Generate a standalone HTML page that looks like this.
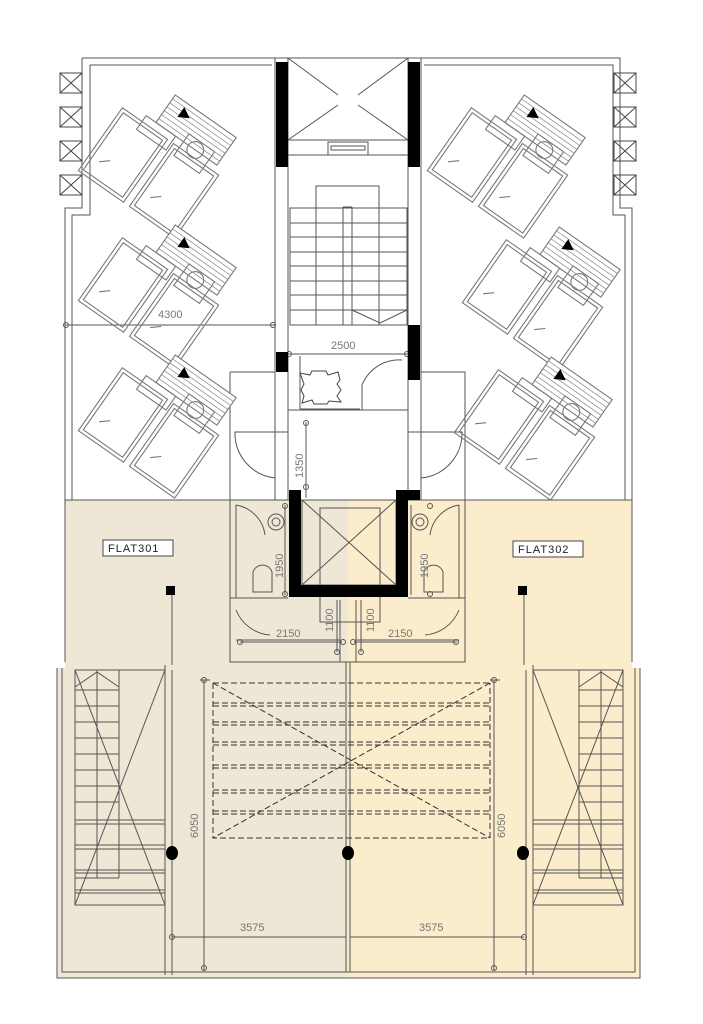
<!DOCTYPE html>
<html><head><meta charset="utf-8"><style>
html,body{margin:0;padding:0;background:#fff}
svg{display:block}
text{font-family:"Liberation Sans",sans-serif;fill:#777;font-size:11px}
</style></head><body>
<svg width="703" height="1024" viewBox="0 0 703 1024" xmlns="http://www.w3.org/2000/svg">
<defs>
<symbol id="su" overflow="visible">
 <g fill="none" stroke="#777" stroke-width="0.9">
  <rect x="-50" y="-8" width="46" height="64"/><rect x="-47" y="-5" width="40" height="58"/>
  <rect x="2" y="-8" width="46" height="64"/><rect x="5" y="-5" width="40" height="58"/>
  <rect x="-20" y="-42" width="62" height="28" fill="#fff"/>
  <g stroke="#888" stroke-width="0.6">
   <line x1="-20" y1="-38" x2="42" y2="-38"/><line x1="-20" y1="-34" x2="42" y2="-34"/>
   <line x1="-20" y1="-30" x2="42" y2="-30"/><line x1="-20" y1="-26" x2="42" y2="-26"/>
   <line x1="-20" y1="-22" x2="42" y2="-22"/><line x1="-20" y1="-18" x2="42" y2="-18"/>
  </g>
  <rect x="-30" y="-14" width="30" height="14"/><rect x="8" y="-22" width="26" height="22"/>
  <circle cx="20" cy="-14" r="7"/>
  <line x1="-40" y1="40" x2="-33" y2="34"/><line x1="12" y1="40" x2="19" y2="34"/>
 </g>
 <polygon points="-8,-38 -8,-28 1,-33" fill="#000"/>
</symbol>
</defs>

<rect x="65" y="500" width="283" height="478" fill="#efe7d6"/>
<rect x="348" y="500" width="284" height="478" fill="#fbedcc"/>
<rect x="57" y="668" width="10" height="310" fill="#efe7d6"/>
<rect x="630" y="668" width="10" height="310" fill="#fbedcc"/>

<g fill="none" stroke="#555" stroke-width="1">
 <path d="M82,58 H620 V208 H632 V662 M82,58 V208 H65 V662"/>
 <path d="M90,65 H272 M424,65 H613 V215 H625 V500 M90,65 V215 H72 V500"/>
 <path d="M65,500 H632"/>
 <path d="M57,668 V978 H640 V668 M62,668 V972 H635 V668"/>
 <g stroke="#444">
  <rect x="60" y="73" width="22" height="20"/><path d="M60,73 L82,93 M82,73 L60,93"/>
  <rect x="60" y="107" width="22" height="20"/><path d="M60,107 L82,127 M82,107 L60,127"/>
  <rect x="60" y="141" width="22" height="20"/><path d="M60,141 L82,161 M82,141 L60,161"/>
  <rect x="60" y="175" width="22" height="20"/><path d="M60,175 L82,195 M82,175 L60,195"/>
  <rect x="614" y="73" width="22" height="20"/><path d="M614,73 L636,93 M636,73 L614,93"/>
  <rect x="614" y="107" width="22" height="20"/><path d="M614,107 L636,127 M636,107 L614,127"/>
  <rect x="614" y="141" width="22" height="20"/><path d="M614,141 L636,161 M636,141 L614,161"/>
  <rect x="614" y="175" width="22" height="20"/><path d="M614,175 L636,195 M636,175 L614,195"/>
 </g>
 <path d="M275,58 H421 M275,58 V500 M421,58 V500"/>
 <path d="M288,140 H408 M288,155 H408 M288,58 V500 M408,58 V500"/>
 <path d="M288,58 L338,95 M408,58 L358,95 M288,140 L338,105 M408,140 L358,105"/>
 <rect x="328" y="142" width="40" height="13"/><rect x="331" y="146" width="34" height="4"/>
 <rect x="316" y="186" width="63" height="22"/>
 <rect x="290" y="208" width="117" height="117"/>
 <path d="M343,207 V325 M352,207 V325 M343,207 H352 M316,208 V325 M379,208 V325"/>
 <path d="M290,223 H407 M290,237 H407 M290,252 H407 M290,266 H407 M290,281 H407 M290,295 H407 M290,310 H407"/>
 <path d="M352,310 L380,323 L407,310"/>
 <path d="M65,325 H275"/><circle cx="66" cy="325" r="2.5"/><circle cx="273" cy="325" r="2.5"/>
 <path d="M288,354 H408"/><circle cx="289" cy="354" r="2.5"/><circle cx="407" cy="354" r="2.5"/>
 <path d="M230,372 H275 M230,372 V500 M421,372 H465 V500"/>
 <path d="M288,410 H408 M288,420 V490 M408,420 V490"/>
 <path d="M300,356 V409 M300,409 H360"/>
 <path d="M362,410 V385 A40,40 0 0 1 402,360"/>
 <path d="M288,432 H235 A45,45 0 0 0 275,478 M408,432 H462 A45,45 0 0 1 421,478"/>
 <path d="M306,422 V498"/><circle cx="306" cy="423" r="2.5"/><circle cx="306" cy="487" r="2.5"/>
 <path d="M300,373 l10,2 l2,-4 l14,0 l2,4 l10,-3 l2,8 l-3,4 l4,6 l-4,6 l4,6 l-12,-1 l-2,3 l-13,0 l-2,-4 l-10,3 l2,-7 l-3,-6 l3,-6 z" stroke="#444"/>
 <path d="M230,500 V662 H465 V500"/>
 <path d="M230,598 H288 M408,598 H465 M236,505 V598 M459,505 V598"/>
 <path d="M236,640 H340 V662 M459,640 H356 V662 M340,640 V600 M356,640 V600"/>
 <path d="M236,610 A40,40 0 0 0 270,635 M459,610 A40,40 0 0 1 425,635"/>
 <path d="M236,505 A35,35 0 0 1 265,535 M459,505 A35,35 0 0 0 430,535"/>
 <circle cx="276" cy="522" r="8"/><circle cx="276" cy="522" r="4"/>
 <circle cx="420" cy="522" r="8"/><circle cx="420" cy="522" r="4"/>
 <path d="M253,592 V572 A10,10 0 0 1 272,572 V592 Z"/>
 <path d="M424,592 V572 A10,10 0 0 1 443,572 V592 Z"/>
 <path d="M285,505 V595 M411,505 V595"/>
 <circle cx="285" cy="506" r="2.5"/><circle cx="285" cy="594" r="2.5"/>
 <circle cx="430" cy="506" r="2.5"/><circle cx="430" cy="594" r="2.5"/>
 <path d="M240,642 H342 M354,642 H457"/>
 <circle cx="240" cy="642" r="2.5"/><circle cx="343" cy="642" r="2.5"/>
 <circle cx="353" cy="642" r="2.5"/><circle cx="456" cy="642" r="2.5"/>
 <path d="M337,600 V652 M361,600 V652"/>
 <circle cx="337" cy="652" r="2.5"/><circle cx="361" cy="652" r="2.5"/>
 <path d="M320,508 V622 H380 V508 Z M302,500 L396,585 M396,500 L302,585"/>
 <rect x="302" y="500" width="94" height="85"/>
 <path d="M346,662 V972 M350,662 V972"/>
 <g stroke="#333" stroke-dasharray="6,3">
  <path d="M213,683 H490 M213,683 V838 H490 V683 M213,683 L490,838 M490,683 L213,838"/>
  <path d="M213,703 H490 M213,706 H490 M213,722 H490 M213,725 H490 M213,742 H490 M213,745 H490 M213,765 H490 M213,768 H490 M213,790 H490 M213,793 H490 M213,811 H490 M213,814 H490"/>
 </g>
 <path d="M204,680 V970 M494,680 V970 M200,680 H210 M490,680 H500"/>
 <circle cx="204" cy="680" r="2.5"/><circle cx="494" cy="680" r="2.5"/>
 <circle cx="204" cy="968" r="2.5"/><circle cx="494" cy="968" r="2.5"/>
 <rect x="75" y="670" width="90" height="235"/>
 <path d="M75,670 L165,905 M165,670 L75,905 M75,687 L97,672 L119,687"/>
 <path d="M97,670 V878 M119,670 V878 M75,878 H119"/>
 <path d="M75,690 H119 M75,706 H119 M75,722 H119 M75,738 H119 M75,754 H119 M75,770 H119 M75,786 H119 M75,802 H119 M75,820 H165 M75,824 H165 M75,845 H165 M75,849 H165 M75,870 H165 M75,873 H165 M75,890 H165 M75,893 H165"/>
 <path d="M165,665 V975 M172,670 V975"/>
 <rect x="533" y="670" width="90" height="235"/>
 <path d="M533,670 L623,905 M623,670 L533,905 M579,687 L601,672 L623,687"/>
 <path d="M579,670 V878 M601,670 V878 M579,878 H623"/>
 <path d="M579,690 H623 M579,706 H623 M579,722 H623 M579,738 H623 M579,754 H623 M579,770 H623 M579,786 H623 M579,802 H623 M533,820 H623 M533,824 H623 M533,845 H623 M533,849 H623 M533,870 H623 M533,873 H623 M533,890 H623 M533,893 H623"/>
 <path d="M533,665 V975 M526,670 V975"/>
 <path d="M172,937 H346 M350,937 H524"/>
 <circle cx="172" cy="937" r="2.5"/><circle cx="524" cy="937" r="2.5"/>
 <path d="M172,588 V665 M524,588 V665"/>
</g>
<g fill="#000">
 <rect x="276" y="62" width="12" height="105"/>
 <rect x="408" y="62" width="12" height="105"/>
 <rect x="276" y="352" width="12" height="20"/>
 <rect x="408" y="325" width="12" height="55"/>
 <path d="M289,490 H301 V585 H396 V490 H420 V500 H408 V597 H289 Z"/>
 <rect x="166" y="586" width="9" height="9"/>
 <rect x="518" y="586" width="9" height="9"/>
 <ellipse cx="172" cy="853" rx="6" ry="7"/>
 <ellipse cx="348" cy="853" rx="6" ry="7"/>
 <ellipse cx="523" cy="853" rx="6" ry="7"/>
</g>
<use href="#su" transform="translate(166,150) rotate(35) scale(1.2)"/>
<use href="#su" transform="translate(166,280) rotate(35) scale(1.2)"/>
<use href="#su" transform="translate(166,410) rotate(35) scale(1.2)"/>
<use href="#su" transform="translate(515,150) rotate(35) scale(1.2)"/>
<use href="#su" transform="translate(550,282) rotate(35) scale(1.2)"/>
<use href="#su" transform="translate(542,412) rotate(35) scale(1.2)"/>
<rect x="158" y="305" width="40" height="14" fill="#fff"/>
<text x="158" y="318">4300</text>
<text x="331" y="349">2500</text>
<text transform="translate(303,478) rotate(-90)">1350</text>
<text transform="translate(283,578) rotate(-90)">1950</text>
<text transform="translate(428,578) rotate(-90)">1950</text>
<text x="276" y="637">2150</text>
<text x="388" y="637">2150</text>
<text transform="translate(333,632) rotate(-90)">1100</text>
<text transform="translate(374,632) rotate(-90)">1100</text>
<text transform="translate(198,838) rotate(-90)">6050</text>
<text transform="translate(505,838) rotate(-90)">6050</text>
<text x="240" y="931" font-size="10">3575</text>
<text x="419" y="931" font-size="10">3575</text>
<rect x="103" y="540" width="70" height="16" fill="#fff" stroke="#444"/>
<text x="108" y="552" style="fill:#222;letter-spacing:1px">FLAT301</text>
<rect x="513" y="541" width="70" height="16" fill="#fff" stroke="#444"/>
<text x="518" y="553" style="fill:#222;letter-spacing:1px">FLAT302</text>
</svg>
</body></html>
